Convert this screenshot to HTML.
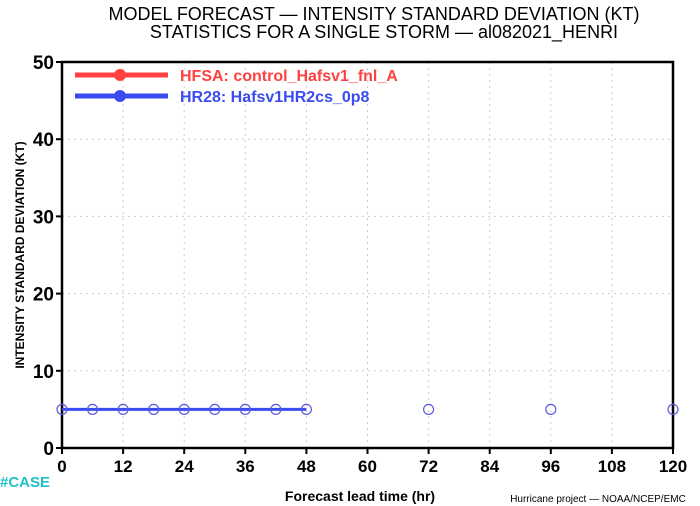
<!DOCTYPE html>
<html><head><meta charset="utf-8"><style>
body{margin:0;background:#fff;}
svg{display:block;font-family:"Liberation Sans",sans-serif;}
</style></head><body>
<svg id="chart" width="700" height="506" viewBox="0 0 700 506">
<text x="374" y="20" text-anchor="middle" font-size="18" fill="#000">MODEL FORECAST — INTENSITY STANDARD DEVIATION (KT)</text>
<text x="384" y="38" text-anchor="middle" font-size="18" fill="#000">STATISTICS FOR A SINGLE STORM — al082021_HENRI</text>
<g id="grid"></g>
<rect x="62" y="62" width="611" height="386" fill="none" stroke="#000" stroke-width="2.5"/>
<g id="axes"></g>
<g id="series"></g>
<g>
<line x1="75" y1="75" x2="168" y2="75" stroke="#ff4040" stroke-width="5"/>
<circle cx="120" cy="75" r="5.5" fill="#ff4040" stroke="#ff4040"/>
<text x="180" y="81" font-size="16" font-weight="bold" fill="#ff4040">HFSA:  control_Hafsv1_fnl_A</text>
<line x1="75" y1="96" x2="168" y2="96" stroke="#3a4cf0" stroke-width="5"/>
<circle cx="120" cy="96" r="5.5" fill="#3a4cf0" stroke="#3a4cf0"/>
<text x="180" y="102" font-size="16" font-weight="bold" fill="#3a4cf0">HR28:  Hafsv1HR2cs_0p8</text>
</g>
<text transform="translate(24,255) rotate(-90)" text-anchor="middle" font-size="12" font-weight="bold">INTENSITY STANDARD DEVIATION (KT)</text>
<text x="360" y="501" text-anchor="middle" font-size="14" font-weight="bold">Forecast lead time (hr)</text>
<text x="598" y="502" text-anchor="middle" font-size="10">Hurricane project — NOAA/NCEP/EMC</text>
<text x="0" y="487" font-size="15" font-weight="bold" fill="#20c0c8">#CASE</text>
</svg>
<script>
const xTicks=[0,12,24,36,48,60,72,84,96,108,120];
const yTicks=[0,10,20,30,40,50];
const hr28Lead=[0,6,12,18,24,30,36,42,48];
const hr28Std=[5,5,5,5,5,5,5,5,5];
const extraLead=[72,96,120];
const extraStd=[5,5,5];
const NS="http://www.w3.org/2000/svg";
const xs=v=>62+v/120*611;
const ys=v=>448-v/50*386;
function mk(t,a,p){const e=document.createElementNS(NS,t);for(const k in a)e.setAttribute(k,a[k]);p.appendChild(e);return e;}
const grid=document.getElementById('grid'),axes=document.getElementById('axes'),ser=document.getElementById('series');
xTicks.forEach(t=>{
 if(t>0&&t<120){const g=mk('line',{x1:xs(t),x2:xs(t),y1:62,y2:448,stroke:'#ccc','stroke-dasharray':'2,4'},grid);
 
 }
 const l=mk('line',{x1:xs(t),x2:xs(t),y1:448,y2:454,stroke:'#000','stroke-width':2},axes);
 
 
 const tx=mk('text',{x:xs(t),y:472,'text-anchor':'middle','font-size':17,'font-weight':'bold'},axes);tx.textContent=t;
 
 
});
yTicks.forEach(t=>{
 if(t>0&&t<50){const g=mk('line',{x1:62,x2:673,y1:ys(t),y2:ys(t),stroke:'#ccc','stroke-dasharray':'2,4'},grid);
 
 }
 const l=mk('line',{x1:56,x2:62,y1:ys(t),y2:ys(t),stroke:'#000','stroke-width':2},axes);
 
 
 const tx=mk('text',{x:54,y:ys(t)+7,'text-anchor':'end','font-size':19,'font-weight':'bold'},axes);tx.textContent=t;
 
 
});
const pts=hr28Lead.map((d,i)=>xs(d)+','+ys(hr28Std[i])).join(' ');
const pl=mk('polyline',{points:pts,fill:'none',stroke:'#3a4cf0','stroke-width':3},ser);


hr28Lead.forEach((d,i)=>{const c=mk('circle',{cx:xs(d),cy:ys(hr28Std[i]),r:5,fill:'none',stroke:'#5a5ae0','stroke-width':1.2},ser);
 
 });
extraLead.forEach((d,i)=>{const c=mk('circle',{cx:xs(d),cy:ys(extraStd[i]),r:5,fill:'none',stroke:'#5a5ae0','stroke-width':1.2},ser);
 
 });
</script>
</body></html>
